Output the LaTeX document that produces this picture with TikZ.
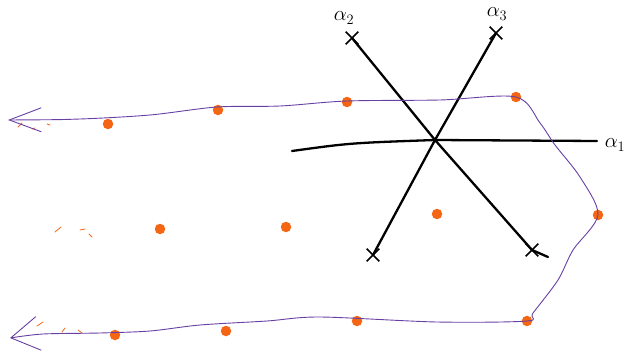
\documentclass[tikz,border=0pt]{standalone}
\usepackage{amsmath,amssymb}
\usepackage{xcolor}
\usepackage{tikz}
\usetikzlibrary{arrows.meta,shapes.misc}
\definecolor{contourpurple}{RGB}{104,64,164}
\definecolor{poleorange}{RGB}{245,102,20}
\tikzset{
  root/.style={line width=2.3pt,line cap=round,line join=round},
  pole/.style={circle,fill=poleorange,minimum size=10.5pt,inner sep=0pt},
  xmark/.style={cross out,draw,line width=1.7pt,minimum size=11pt,inner sep=0pt},
  contour/.style={contourpurple,line width=0.9pt},
  tickmark/.style={poleorange,line width=0.8pt,line cap=round},
  rootlab/.style={font=\huge,inner sep=1pt},
}

\begin{document}
\begin{tikzpicture}[x=1pt,y=-1pt]
  \useasboundingbox (0,0) rectangle (626,358);
  % the three roots meeting at the origin
  \coordinate (O) at (435,140);
  \coordinate (a1l) at (292,151);
  \coordinate (a1r) at (597,141);
  \coordinate (tail) at (548,257);
  \node[xmark] (x2) at (352,38) {};
  \node[xmark] (x3) at (496,33) {};
  \node[xmark] (y3) at (373,255) {};
  \node[xmark] (y2) at (532,250) {};
  \draw[root] (a1l) .. controls (350,143) .. (O) -- (a1r);
  \draw[root] (x2.center) -- (O) -- (y2.center) .. controls (540,254) .. (tail);
  \draw[root] (x3.center) -- (O) -- (y3.center);
  \node[rootlab] (l1) at (615,145) {$\alpha_1$};
  \node[rootlab] (l2) at (344,18) {$\alpha_2$};
  \node[rootlab] (l3) at (497,14) {$\alpha_3$};
  % poles
  \foreach \x/\y [count=\n] in {108/124,218/110,347/102,516/97,160/229,286/227,
                                437/214,598/215,527/321,357/321,226/331,115/335}
    \node[pole] (d\n) at (\x,\y) {};
  % faint marks to the left
  \foreach \x/\y/\dx/\dy in {18/127/4/-4,32/129/3/-1,47/124/3/1,55/232/6/-5,
                             80/230/5/-1,89/234/3/3,37/326/6/-4,62/332/3/-4,78/330/4/3}
    \draw[tickmark] (\x,\y) -- ++(\dx,\dy);
  % the contour
  \draw[contour,{Straight Barb[length=32pt,width=24pt]}-{Straight Barb[length=28pt,width=34pt]}]
    plot[smooth,tension=0.5] coordinates {(8,120) (80,119) (150,115) (217,107) (280,106)
      (347,101) (440,100) (d4.center) (540,123) (555,145) (580,177) (d8.center)
      (573,250) (558,280) (533,313) (d9.center) (437,322) (320,317) (267,321)
      (200,325) (150,331) (100,333) (43,334) (10,338)};
\end{tikzpicture}
\end{document}
